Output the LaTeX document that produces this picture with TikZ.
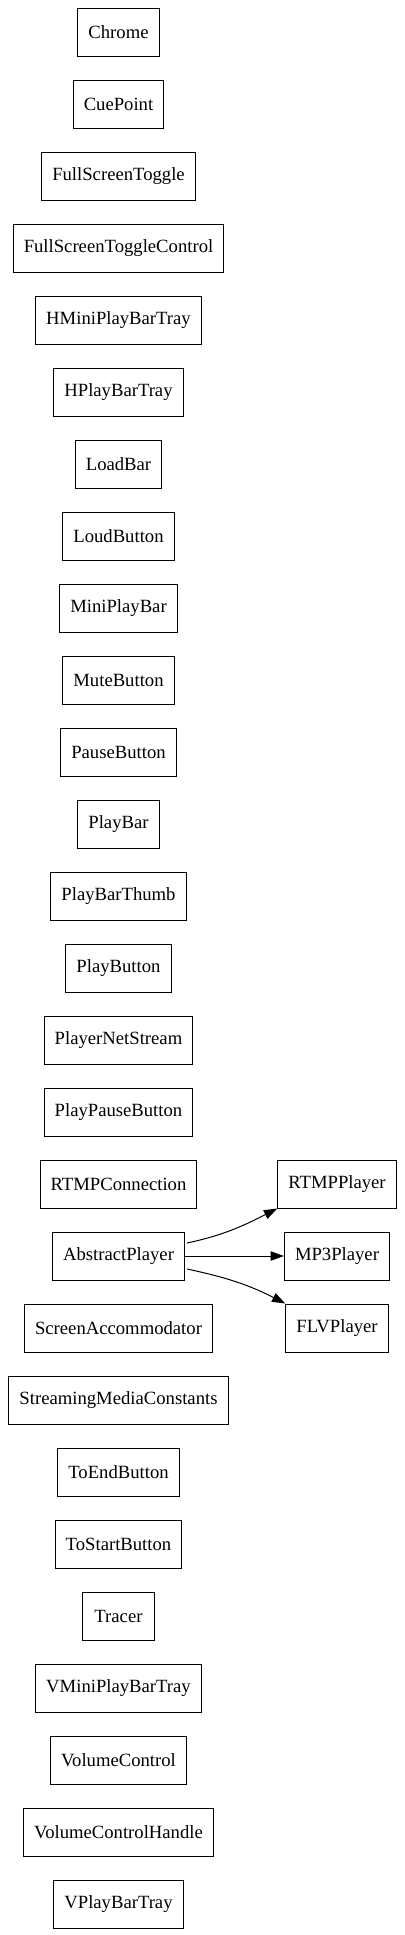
\documentclass[tikz,border=0pt]{standalone}
\usepackage{fontspec}
\setmainfont{Liberation Serif}
\usetikzlibrary{arrows.meta}
\begin{document}
\begin{tikzpicture}[x=0.75pt,y=-0.75pt,
  box/.style={draw,line width=0.75pt,font=\fontsize{14pt}{16pt}\selectfont,inner xsep=7.92pt,inner ysep=0pt,minimum width=54pt,minimum height=36pt},
  arr/.style={line width=0.75pt,-{Triangle[length=10pt,width=7pt]}}]
\useasboundingbox (0,0) rectangle (404,1935);
\node[box] (n0)  at (118.5,32)   {Chrome};
\node[box] (n1)  at (118.5,104)  {CuePoint};
\node[box] (n2)  at (118.5,176)  {FullScreenToggle};
\node[box] (n3)  at (118.5,248)  {FullScreenToggleControl};
\node[box] (n4)  at (118.5,320)  {HMiniPlayBarTray};
\node[box] (n5)  at (118.5,392)  {HPlayBarTray};
\node[box] (n6)  at (118.5,464)  {LoadBar};
\node[box] (n7)  at (118.5,536)  {LoudButton};
\node[box] (n8)  at (118.5,608)  {MiniPlayBar};
\node[box] (n9)  at (118.5,680)  {MuteButton};
\node[box] (n10) at (118.5,752)  {PauseButton};
\node[box] (n11) at (118.5,824)  {PlayBar};
\node[box] (n12) at (118.5,896)  {PlayBarThumb};
\node[box] (n13) at (118.5,968)  {PlayButton};
\node[box] (n14) at (118.5,1040) {PlayerNetStream};
\node[box] (n15) at (118.5,1112) {PlayPauseButton};
\node[box] (n16) at (118.5,1184) {RTMPConnection};
\node[box] (ap)  at (118.5,1256) {AbstractPlayer};
\node[box] (n18) at (118.5,1328) {ScreenAccommodator};
\node[box] (n19) at (118.5,1400) {StreamingMediaConstants};
\node[box] (n20) at (118.5,1472) {ToEndButton};
\node[box] (n21) at (118.5,1544) {ToStartButton};
\node[box] (n22) at (118.5,1616) {Tracer};
\node[box] (n23) at (118.5,1688) {VMiniPlayBarTray};
\node[box] (n24) at (118.5,1760) {VolumeControl};
\node[box] (n25) at (118.5,1832) {VolumeControlHandle};
\node[box] (n26) at (118.5,1904) {VPlayBarTray};
\node[box] (rtmp) at (337,1184) {RTMPPlayer};
\node[box] (mp3)  at (337,1256) {MP3Player};
\node[box] (flv)  at (337,1328) {FLVPlayer};
\draw[arr] ([xshift=1.5pt,yshift=9.75pt]ap.east) to[out=12,in=207] (rtmp.south west);
\draw[arr] (ap.east) -- (mp3.west);
\draw[arr] ([xshift=1.5pt,yshift=-9.75pt]ap.east) to[out=-12,in=153] (flv.north west);
\end{tikzpicture}
\end{document}
